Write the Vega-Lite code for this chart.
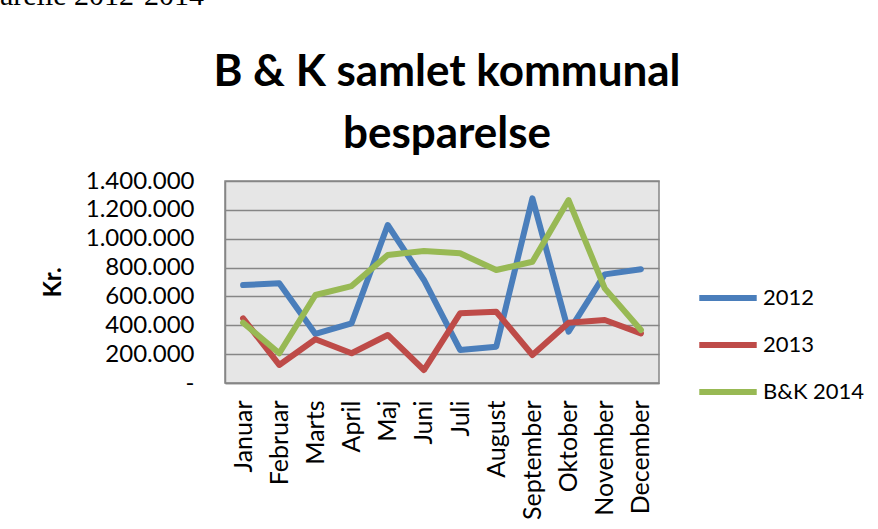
{
  "$schema": "https://vega.github.io/schema/vega-lite/v6.json",
  "autosize": "none",
  "padding": {"left": 225, "top": 181, "right": 653, "bottom": 348},
  "background": "white",
  "title": {
    "text": "arelle 2012-2014",
    "font": "Liberation Serif",
    "fontSize": 30,
    "fontWeight": "normal",
    "color": "black",
    "anchor": "start",
    "frame": "group",
    "baseline": "alphabetic",
    "offset": 15,
    "dx": -225
  },
  "bounds": "flush",
  "resolve": {"scale": {"color": "independent"}},
  "vconcat": [
    {
      "width": 434,
      "height": 202,
      "title": {
        "text": ["B & K samlet kommunal", "besparelse"],
        "font": "Lato",
        "fontSize": 44,
        "fontWeight": "bold",
        "color": "black",
        "lineHeight": 62,
        "anchor": "middle",
        "frame": "group",
        "baseline": "bottom",
        "offset": -32,
        "dx": 5
      },
      "data": {
        "values": [
          {"month": "Januar", "series": "2012", "value": 679000},
          {"month": "Februar", "series": "2012", "value": 691000},
          {"month": "Marts", "series": "2012", "value": 340000},
          {"month": "April", "series": "2012", "value": 414000},
          {"month": "Maj", "series": "2012", "value": 1095000},
          {"month": "Juni", "series": "2012", "value": 714000},
          {"month": "Juli", "series": "2012", "value": 229000},
          {"month": "August", "series": "2012", "value": 252000},
          {"month": "September", "series": "2012", "value": 1280000},
          {"month": "Oktober", "series": "2012", "value": 356000},
          {"month": "November", "series": "2012", "value": 753000},
          {"month": "December", "series": "2012", "value": 788000},
          {"month": "Januar", "series": "2013", "value": 448000},
          {"month": "Februar", "series": "2013", "value": 125000},
          {"month": "Marts", "series": "2013", "value": 303000},
          {"month": "April", "series": "2013", "value": 206000},
          {"month": "Maj", "series": "2013", "value": 333000},
          {"month": "Juni", "series": "2013", "value": 90000},
          {"month": "Juli", "series": "2013", "value": 483000},
          {"month": "August", "series": "2013", "value": 494000},
          {"month": "September", "series": "2013", "value": 194000},
          {"month": "Oktober", "series": "2013", "value": 418000},
          {"month": "November", "series": "2013", "value": 437000},
          {"month": "December", "series": "2013", "value": 344000},
          {"month": "Januar", "series": "B&K 2014", "value": 418000},
          {"month": "Februar", "series": "B&K 2014", "value": 206000},
          {"month": "Marts", "series": "B&K 2014", "value": 610000},
          {"month": "April", "series": "B&K 2014", "value": 672000},
          {"month": "Maj", "series": "B&K 2014", "value": 887000},
          {"month": "Juni", "series": "B&K 2014", "value": 915000},
          {"month": "Juli", "series": "B&K 2014", "value": 899000},
          {"month": "August", "series": "B&K 2014", "value": 783000},
          {"month": "September", "series": "B&K 2014", "value": 840000},
          {"month": "Oktober", "series": "B&K 2014", "value": 1268000},
          {"month": "November", "series": "B&K 2014", "value": 656000},
          {"month": "December", "series": "B&K 2014", "value": 367000}
        ]
      },
      "mark": {"type": "line", "strokeWidth": 6, "strokeCap": "round", "strokeJoin": "round"},
      "encoding": {
        "x": {
          "field": "month",
          "type": "ordinal",
          "sort": ["Januar", "Februar", "Marts", "April", "Maj", "Juni", "Juli", "August", "September", "Oktober", "November", "December"],
          "scale": {"type": "point", "padding": 0.5},
          "axis": {
            "title": null,
            "labelAngle": -90,
            "labelFont": "Lato",
            "labelFontSize": 25,
            "labelColor": "black",
            "labelPadding": 17,
            "ticks": false,
            "grid": false,
            "domainColor": "#868686",
            "domainWidth": 1.5
          }
        },
        "y": {
          "field": "value",
          "type": "quantitative",
          "scale": {"domain": [0, 1400000], "nice": false},
          "axis": {
            "title": "Kr.",
            "titleFont": "Lato",
            "titleFontSize": 24,
            "titleFontWeight": "bold",
            "titleColor": "black",
            "titlePadding": 20,
            "values": [0, 200000, 400000, 600000, 800000, 1000000, 1200000, 1400000],
            "format": ",.0f",
            "labelExpr": "datum.value == 0 ? '-\u2007' : datum.label",
            "labelFont": "Lato",
            "labelFontSize": 24,
            "labelColor": "black",
            "labelPadding": 31,
            "ticks": false,
            "grid": true,
            "gridColor": "#868686",
            "gridWidth": 1.5,
            "domainColor": "#868686",
            "domainWidth": 1.5
          }
        },
        "color": {
          "field": "series",
          "type": "nominal",
          "scale": {"domain": ["2012", "2013", "B&K 2014"], "range": ["#4A7EBB", "#BE4B48", "#98B954"]},
          "legend": {
            "title": null,
            "orient": "none",
            "legendX": 471,
            "legendY": 85,
            "symbolType": "stroke",
            "symbolSize": 3300,
            "symbolStrokeWidth": 6,
            "labelFont": "Lato",
            "labelFontSize": 22,
            "labelColor": "black",
            "labelOffset": 3,
            "rowPadding": 3,
            "padding": 0
          }
        }
      }
    }
  ],
  "config": {
    "locale": {"number": {"decimal": ",", "thousands": ".", "grouping": [3], "currency": ["", " kr"]}},
    "view": {"fill": "#E6E6E6", "stroke": "#868686", "strokeWidth": 1.5}
  }
}
